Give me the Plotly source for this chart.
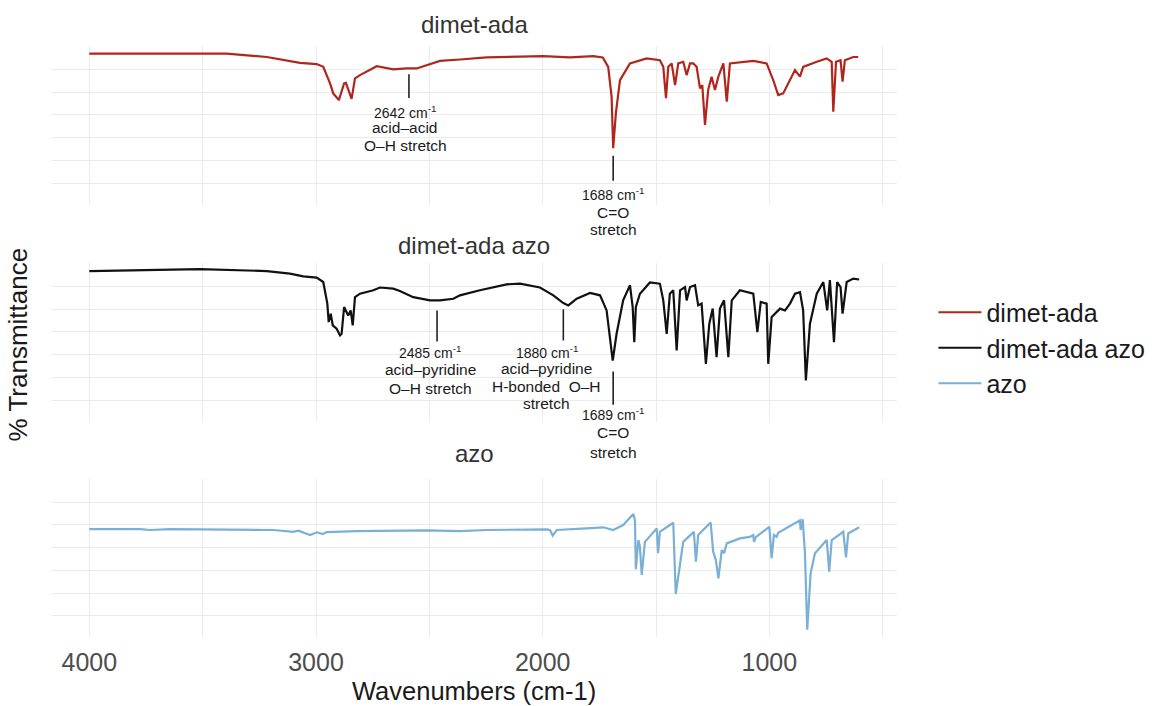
import plotly.graph_objects as go

# ---------------- data ----------------
wn_dimet_ada = [4000, 3394, 3217, 3071, 2997, 2968, 2938, 2924, 2899, 2876, 2868, 2853, 2843, 2828,
                2806, 2732, 2659, 2600, 2556, 2453, 2396, 2365, 2247, 1997, 1880, 1777, 1735, 1711,
                1696, 1689, 1677, 1659, 1615, 1541, 1483, 1468, 1456, 1446, 1431, 1416, 1402, 1380,
                1365, 1350, 1336, 1321, 1306, 1296, 1284, 1270, 1255, 1240, 1225, 1203, 1188, 1174,
                1071, 1012, 983, 961, 939, 909, 887, 865, 851, 791, 747, 725, 718, 706, 686, 677,
                667, 630, 608]
t_dimet_ada = [56.8, 56.8, 55.3, 52.7, 52.2, 51.0, 43.8, 39.4, 36.5, 43.8, 44.0, 40.1, 37.0, 46.0,
               47.4, 51.3, 49.9, 50.3, 50.3, 53.6, 53.9, 54.2, 55.1, 55.7, 55.1, 55.7, 55.1, 51.0,
               38.0, 15.5, 30.9, 45.2, 52.5, 54.7, 53.9, 51.0, 37.3, 51.0, 52.5, 43.0, 52.5, 53.2,
               47.4, 52.5, 52.5, 51.0, 41.6, 43.0, 25.7, 40.9, 46.7, 40.9, 46.7, 52.5, 35.8, 52.5,
               53.6, 52.5, 45.2, 38.7, 39.4, 45.2, 49.6, 46.7, 51.0, 53.2, 54.7, 53.2, 31.4, 53.2,
               53.9, 44.5, 53.9, 55.3, 55.3]

wn_dimet_ada_azo = [4000, 3776, 3512, 3217, 3115, 3056, 2997, 2968, 2950, 2944, 2935, 2926, 2909,
                    2894, 2887, 2876, 2868, 2858, 2847, 2838, 2828, 2806, 2747, 2718, 2659, 2630,
                    2571, 2541, 2497, 2468, 2453, 2394, 2365, 2277, 2159, 2100, 2012, 1953, 1909,
                    1887, 1850, 1791, 1747, 1718, 1703, 1691, 1674, 1645, 1615, 1603, 1596, 1589,
                    1571, 1527, 1483, 1468, 1453, 1439, 1424, 1409, 1394, 1372, 1365, 1350, 1328,
                    1314, 1299, 1280, 1265, 1250, 1233, 1218, 1200, 1181, 1166, 1130, 1071, 1053,
                    1038, 1012, 1005, 990, 953, 931, 909, 887, 865, 851, 839, 821, 791, 762, 745,
                    733, 715, 701, 686, 677, 659, 630, 604]
t_dimet_ada_azo = [56.6, 56.9, 57.4, 56.6, 55.5, 54.3, 53.7, 51.8, 42.4, 34.3, 38.0, 32.9, 31.4,
                   28.5, 29.2, 40.9, 39.4, 37.2, 39.4, 32.9, 45.2, 46.7, 48.2, 49.4, 48.9, 47.9,
                   45.2, 44.7, 43.8, 43.8, 43.8, 44.5, 46.0, 48.2, 50.8, 51.1, 49.4, 46.0, 42.6,
                   41.6, 44.5, 47.0, 46.0, 39.4, 27.7, 17.5, 29.2, 43.8, 50.4, 40.9, 25.5, 40.9,
                   46.7, 51.6, 51.1, 43.8, 29.2, 46.7, 48.2, 21.9, 48.2, 49.6, 43.8, 49.6, 50.4,
                   41.6, 42.4, 16.1, 33.6, 40.2, 19.0, 40.2, 43.8, 19.0, 43.8, 48.2, 46.7, 29.9,
                   43.1, 42.4, 16.1, 36.5, 40.2, 39.4, 42.4, 46.7, 47.4, 39.4, 8.8, 33.6, 46.7,
                   51.8, 39.4, 52.6, 25.5, 51.8, 49.6, 38.0, 51.8, 53.3, 52.9]

wn_azo = [4000, 3776, 3732, 3644, 3512, 3188, 3100, 3078, 3026, 2997, 2970, 2953, 2820, 2512, 2365,
          2247, 1982, 1968, 1956, 1938, 1806, 1733, 1689, 1645, 1600, 1593, 1589, 1578, 1571, 1563,
          1549, 1497, 1491, 1483, 1424, 1413, 1380, 1333, 1324, 1314, 1259, 1248, 1236, 1225, 1210,
          1200, 1188, 1130, 1086, 1071, 1068, 1059, 1000, 990, 980, 968, 961, 865, 862, 853, 843,
          833, 818, 799, 747, 736, 725, 674, 662, 652, 604]
t_azo = [38.1, 38.1, 37.7, 38.1, 38.0, 37.7, 36.9, 37.4, 35.5, 36.7, 35.9, 36.8, 37.2, 37.5, 37.2,
         37.7, 38.0, 37.7, 35.2, 37.7, 38.4, 38.9, 37.7, 39.9, 44.7, 42.0, 20.5, 33.3, 30.4, 18.0,
         32.5, 38.4, 27.5, 36.9, 40.9, 9.6, 32.5, 36.9, 23.8, 35.5, 41.0, 28.2, 24.5, 16.5, 28.9,
         27.5, 31.8, 34.0, 34.7, 35.5, 32.5, 34.7, 39.1, 25.3, 35.5, 34.7, 36.5, 42.0, 37.7, 42.4,
         27.5, -6.1, 18.7, 27.5, 33.3, 19.4, 33.3, 36.9, 25.7, 36.2, 38.9]

series_names = ["dimet-ada", "dimet-ada azo", "azo"]
series_colors = ["#b0261d", "#111111", "#7aafd6"]

x_major = [4000, 3000, 2000, 1000]
x_minor = [3500, 2500, 1500, 500]
y_grid = [0, 10, 20, 30, 40, 50, 60]

# peak annotations: panel, marker x, marker y0/y1 (data), text x, text lines, line heights (paper)
peak_marks = [
    (1, 2590, 47.8, 37.4, 2607, ["2642 cm<sup>-1</sup>", "acid\u2013acid", "O\u2013H stretch"],
     [0.8883, 0.8613, 0.8308]),
    (1, 1689, 12.2, 1.3, 1689, ["1688 cm<sup>-1</sup>", "C=O", "stretch"],
     [0.7496, 0.7191, 0.6887]),
    (2, 2466, 39.4, 25.8, 2497, ["2485 cm<sup>-1</sup>", "acid\u2013pyridine", "O\u2013H stretch"],
     [0.4822, 0.4518, 0.4213]),
    (2, 1909, 39.9, 26.3, 1981, ["1880 cm<sup>-1</sup>", "acid\u2013pyridine", "H-bonded  O\u2013H", "stretch"],
     [0.4822, 0.4535, 0.4247, 0.3959]),
    (2, 1689, 12.7, -1.8, 1689, ["1689 cm<sup>-1</sup>", "C=O", "stretch"],
     [0.3773, 0.3452, 0.3130]),
]

FONT = "Liberation Sans, Arial, Helvetica, sans-serif"
GRID = "#ebebeb"

fig = go.Figure()
data_pairs = [(wn_dimet_ada, t_dimet_ada), (wn_dimet_ada_azo, t_dimet_ada_azo), (wn_azo, t_azo)]
for i, ((xs, ys), name, col) in enumerate(zip(data_pairs, series_names, series_colors)):
    sfx = "" if i == 0 else str(i + 1)
    fig.add_trace(go.Scatter(x=xs, y=ys, mode="lines", name=name,
                             line=dict(color=col, width=2.2),
                             xaxis="x" + sfx, yaxis="y" + sfx))

domains = [[0.731, 1.0], [0.3638, 0.6328], [0.0, 0.2673]]
xrange = [4169, 437]
yrange = [-9.3, 60.1]
layout = dict(
    width=1158, height=706,
    margin=dict(l=51, r=261, t=46, b=69, autoexpand=False),
    paper_bgcolor="white", plot_bgcolor="white",
    font=dict(family=FONT, color="#4d4d4d"),
    showlegend=True,
    legend=dict(x=1.0431, y=0.489, xanchor="left", yanchor="middle", itemwidth=43,
                font=dict(size=25, color="#1a1a1a", family=FONT),
                bgcolor="rgba(0,0,0,0)", tracegroupgap=0),
)
for i in range(3):
    sfx = "" if i == 0 else str(i + 1)
    layout["xaxis" + sfx] = dict(
        domain=[0, 1], range=xrange, anchor="y" + sfx,
        tickmode="array", tickvals=x_major,
        showticklabels=(i == 2), showgrid=True, gridcolor=GRID, gridwidth=1.3,
        minor=dict(tickmode="array", tickvals=x_minor, showgrid=True,
                   gridcolor=GRID, gridwidth=1.3, ticks=""),
        zeroline=False, showline=False, ticks="",
        tickfont=dict(size=25, color="#4d4d4d", family=FONT),
        ticklabelstandoff=8,
    )
    layout["yaxis" + sfx] = dict(
        domain=domains[i], range=yrange, anchor="x" + sfx,
        tickmode="array", tickvals=y_grid, showticklabels=False,
        showgrid=True, gridcolor=GRID, gridwidth=1.3,
        zeroline=False, showline=False, ticks="",
    )
fig.update_layout(**layout)

annotations = []
shapes = []
# facet titles
title_y = [1.036, 0.6616, 0.3097]
for name, ty in zip(series_names, title_y):
    annotations.append(dict(text=name, x=0.5, y=ty, xref="paper", yref="paper",
                            xanchor="center", yanchor="middle", showarrow=False,
                            font=dict(size=24, color="#333333", family=FONT)))
# axis titles
annotations.append(dict(text="Wavenumbers (cm-1)", x=0.5, y=-0.091, xref="paper", yref="paper",
                        xanchor="center", yanchor="middle", showarrow=False,
                        font=dict(size=25.5, color="#1a1a1a", family=FONT)))
annotations.append(dict(text="% Transmittance", x=-0.039, y=0.495, xref="paper", yref="paper",
                        xanchor="center", yanchor="middle", showarrow=False, textangle=-90,
                        font=dict(size=26, color="#1a1a1a", family=FONT)))
# peak labels
for panel, mx, my0, my1, tx, lines, ys in peak_marks:
    sfx = "" if panel == 1 else str(panel)
    shapes.append(dict(type="line", xref="x" + sfx, yref="y" + sfx,
                       x0=mx, x1=mx, y0=my0, y1=my1,
                       line=dict(color="#222222", width=1.6)))
    for j, (ln, yy) in enumerate(zip(lines, ys)):
        annotations.append(dict(text=ln, x=tx, y=yy, xref="x", yref="paper",
                                xanchor="center", yanchor="middle", showarrow=False,
                                font=dict(size=14 if j == 0 else 15.5, color="#1a1a1a", family=FONT)))
fig.update_layout(annotations=annotations, shapes=shapes)

fig.write_html("out.html")
